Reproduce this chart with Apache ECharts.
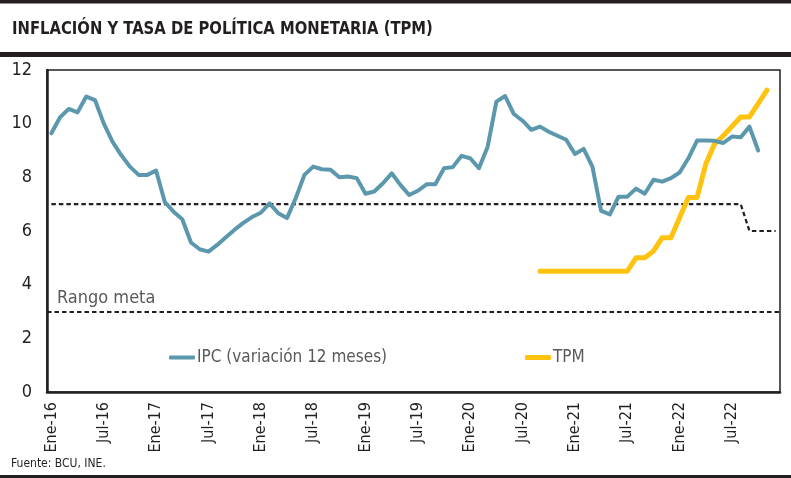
<!DOCTYPE html>
<html>
<head>
<meta charset="utf-8">
<script src="https://cdn.jsdelivr.net/npm/echarts@6/dist/echarts.min.js"></script>
<style>
  html, body { margin: 0; padding: 0; background: #fff; }
  #chart { width: 791px; height: 478px; }
</style>
</head>
<body>
<div id="chart"></div>
<script>
// ---- data ----
const monthNames = ['Ene','Feb','Mar','Abr','May','Jun','Jul','Ago','Sep','Oct','Nov','Dic'];
const years = ['16','17','18','19','20','21','22'];
const categories = [];
years.forEach(y => monthNames.forEach(m => categories.push(m + '-' + y)));

// IPC, variación 12 meses (%), Ene-16 .. Oct-22
const ipc = [
  9.64, 10.24, 10.55, 10.42, 11.01, 10.88, 10.01, 9.33, 8.83, 8.40, 8.09, 8.09,
  8.25, 7.08, 6.72, 6.44, 5.57, 5.32, 5.23, 5.48, 5.77, 6.05, 6.30, 6.52,
  6.68, 7.03, 6.66, 6.48, 7.22, 8.09, 8.40, 8.30, 8.28, 8.00, 8.03, 7.97,
  7.39, 7.47, 7.78, 8.15, 7.72, 7.34, 7.50, 7.74, 7.74, 8.34, 8.38, 8.80,
  8.71, 8.34, 9.14, 10.82, 11.03, 10.36, 10.11, 9.77, 9.89, 9.70, 9.55, 9.40,
  8.87, 9.06, 8.40, 6.75, 6.62, 7.28, 7.28, 7.58, 7.39, 7.91, 7.84, 7.97,
  8.18, 8.71, 9.37, 9.37, 9.36, 9.28, 9.52, 9.49, 9.89, 9.00
];

// TPM (%), Sep-20 .. Nov-22 (blank before Sep-20)
const tpmStartIndex = 56;
const tpmValues = [
  4.5, 4.5, 4.5, 4.5,
  4.5, 4.5, 4.5, 4.5, 4.5, 4.5, 4.5, 5.0, 5.0, 5.25, 5.75, 5.75,
  6.5, 7.25, 7.25, 8.5, 9.25, 9.55, 9.9, 10.25, 10.25, 10.75, 11.25
];

// Meta de inflación: límite superior y límite inferior del rango meta
const metaUpper = [];
for (let i = 0; i < 80; i++) metaUpper.push(7);
for (let i = 80; i < 84; i++) metaUpper.push(6);
const metaLower = 3;

const yTicks = { min: 0, max: 12, interval: 2 };

// ---- build ----
const tpm = categories.map((c, i) => (i >= tpmStartIndex && i - tpmStartIndex < tpmValues.length) ? tpmValues[i - tpmStartIndex] : null);

const FONT = "'Liberation Sans Narrow', 'DejaVu Sans Condensed', 'Roboto', sans-serif";
const INK = '#231f20';
const GREY = '#58595b';
const BLUE = '#5b98ae';
const YELLOW = '#ffc20e';

const chart = echarts.init(document.getElementById('chart'), null, { renderer: 'canvas' });
chart.setOption({
  animation: false,
  backgroundColor: '#ffffff',
  textStyle: { fontFamily: FONT },
  graphic: [
    { type: 'rect', left: 0, top: 0, shape: { width: 791, height: 3.5 }, style: { fill: INK } },
    { type: 'rect', left: 0, top: 52, shape: { width: 791, height: 5 }, style: { fill: INK } },
    { type: 'rect', left: 0, top: 475, shape: { width: 791, height: 3 }, style: { fill: INK } },
    {
      type: 'text', x: 12, y: 20, scaleX: 0.89,
      style: {
        text: 'INFLACIÓN Y TASA DE POLÍTICA MONETARIA (TPM)',
        font: 'bold 18.5px ' + FONT, fill: INK
      }
    },
    { type: 'text', left: 11, top: 458, style: { text: 'Fuente: BCU, INE.', font: '12px ' + FONT, fill: INK } }
  ],
  grid: {
    left: 47, right: 11, top: 70, bottom: 86,
    show: true, borderColor: INK, borderWidth: 1.5, backgroundColor: 'transparent'
  },
  legend: [
    {
      data: [{ name: 'IPC (variación 12 meses)', icon: 'roundRect' }],
      left: 164, top: 344,
      itemWidth: 26, itemHeight: 4, itemGap: 4,
      textStyle: { fontFamily: FONT, fontSize: 17, color: GREY, padding: [0, 0, 0, -3] }
    },
    {
      data: [{ name: 'TPM', icon: 'roundRect' }],
      left: 520, top: 344,
      itemWidth: 26, itemHeight: 5, itemGap: 4,
      textStyle: { fontFamily: FONT, fontSize: 17, color: GREY, padding: [0, 0, 0, -3] }
    }
  ],
  xAxis: {
    type: 'category',
    data: categories,
    boundaryGap: true,
    axisLine: { show: true, lineStyle: { color: INK, width: 2.5 } },
    axisTick: { show: false },
    axisLabel: {
      interval: 5, rotate: 90, margin: 10,
      fontFamily: FONT, fontSize: 16, color: INK
    },
    splitLine: { show: false }
  },
  yAxis: {
    type: 'value',
    min: yTicks.min, max: yTicks.max, interval: yTicks.interval,
    axisLine: { show: true, lineStyle: { color: INK, width: 2.5 } },
    axisTick: { show: false },
    axisLabel: { margin: 15, fontFamily: FONT, fontSize: 18, color: INK },
    splitLine: { show: false }
  },
  series: [
    {
      name: 'Meta',
      type: 'line',
      data: metaUpper,
      symbol: 'none',
      silent: true,
      lineStyle: { color: INK, width: 2.2, type: [4.5, 3] },
      z: 1,
      markLine: {
        silent: true,
        symbol: ['none', 'none'],
        lineStyle: { color: INK, width: 2.2, type: [4.5, 3] },
        label: {
          show: true, position: 'insideStartTop', formatter: 'Rango meta',
          fontFamily: FONT, fontSize: 18, color: GREY, distance: [10, 4]
        },
        data: [{ yAxis: metaLower }]
      }
    },
    {
      name: 'IPC (variación 12 meses)',
      type: 'line',
      data: ipc,
      symbol: 'none',
      itemStyle: { color: BLUE },
      lineStyle: { color: BLUE, width: 4, cap: 'round', join: 'round' },
      z: 3
    },
    {
      name: 'TPM',
      type: 'line',
      data: tpm,
      symbol: 'none',
      itemStyle: { color: YELLOW },
      lineStyle: { color: YELLOW, width: 5, cap: 'round', join: 'round' },
      z: 2
    }
  ]
});
</script>
</body>
</html>
